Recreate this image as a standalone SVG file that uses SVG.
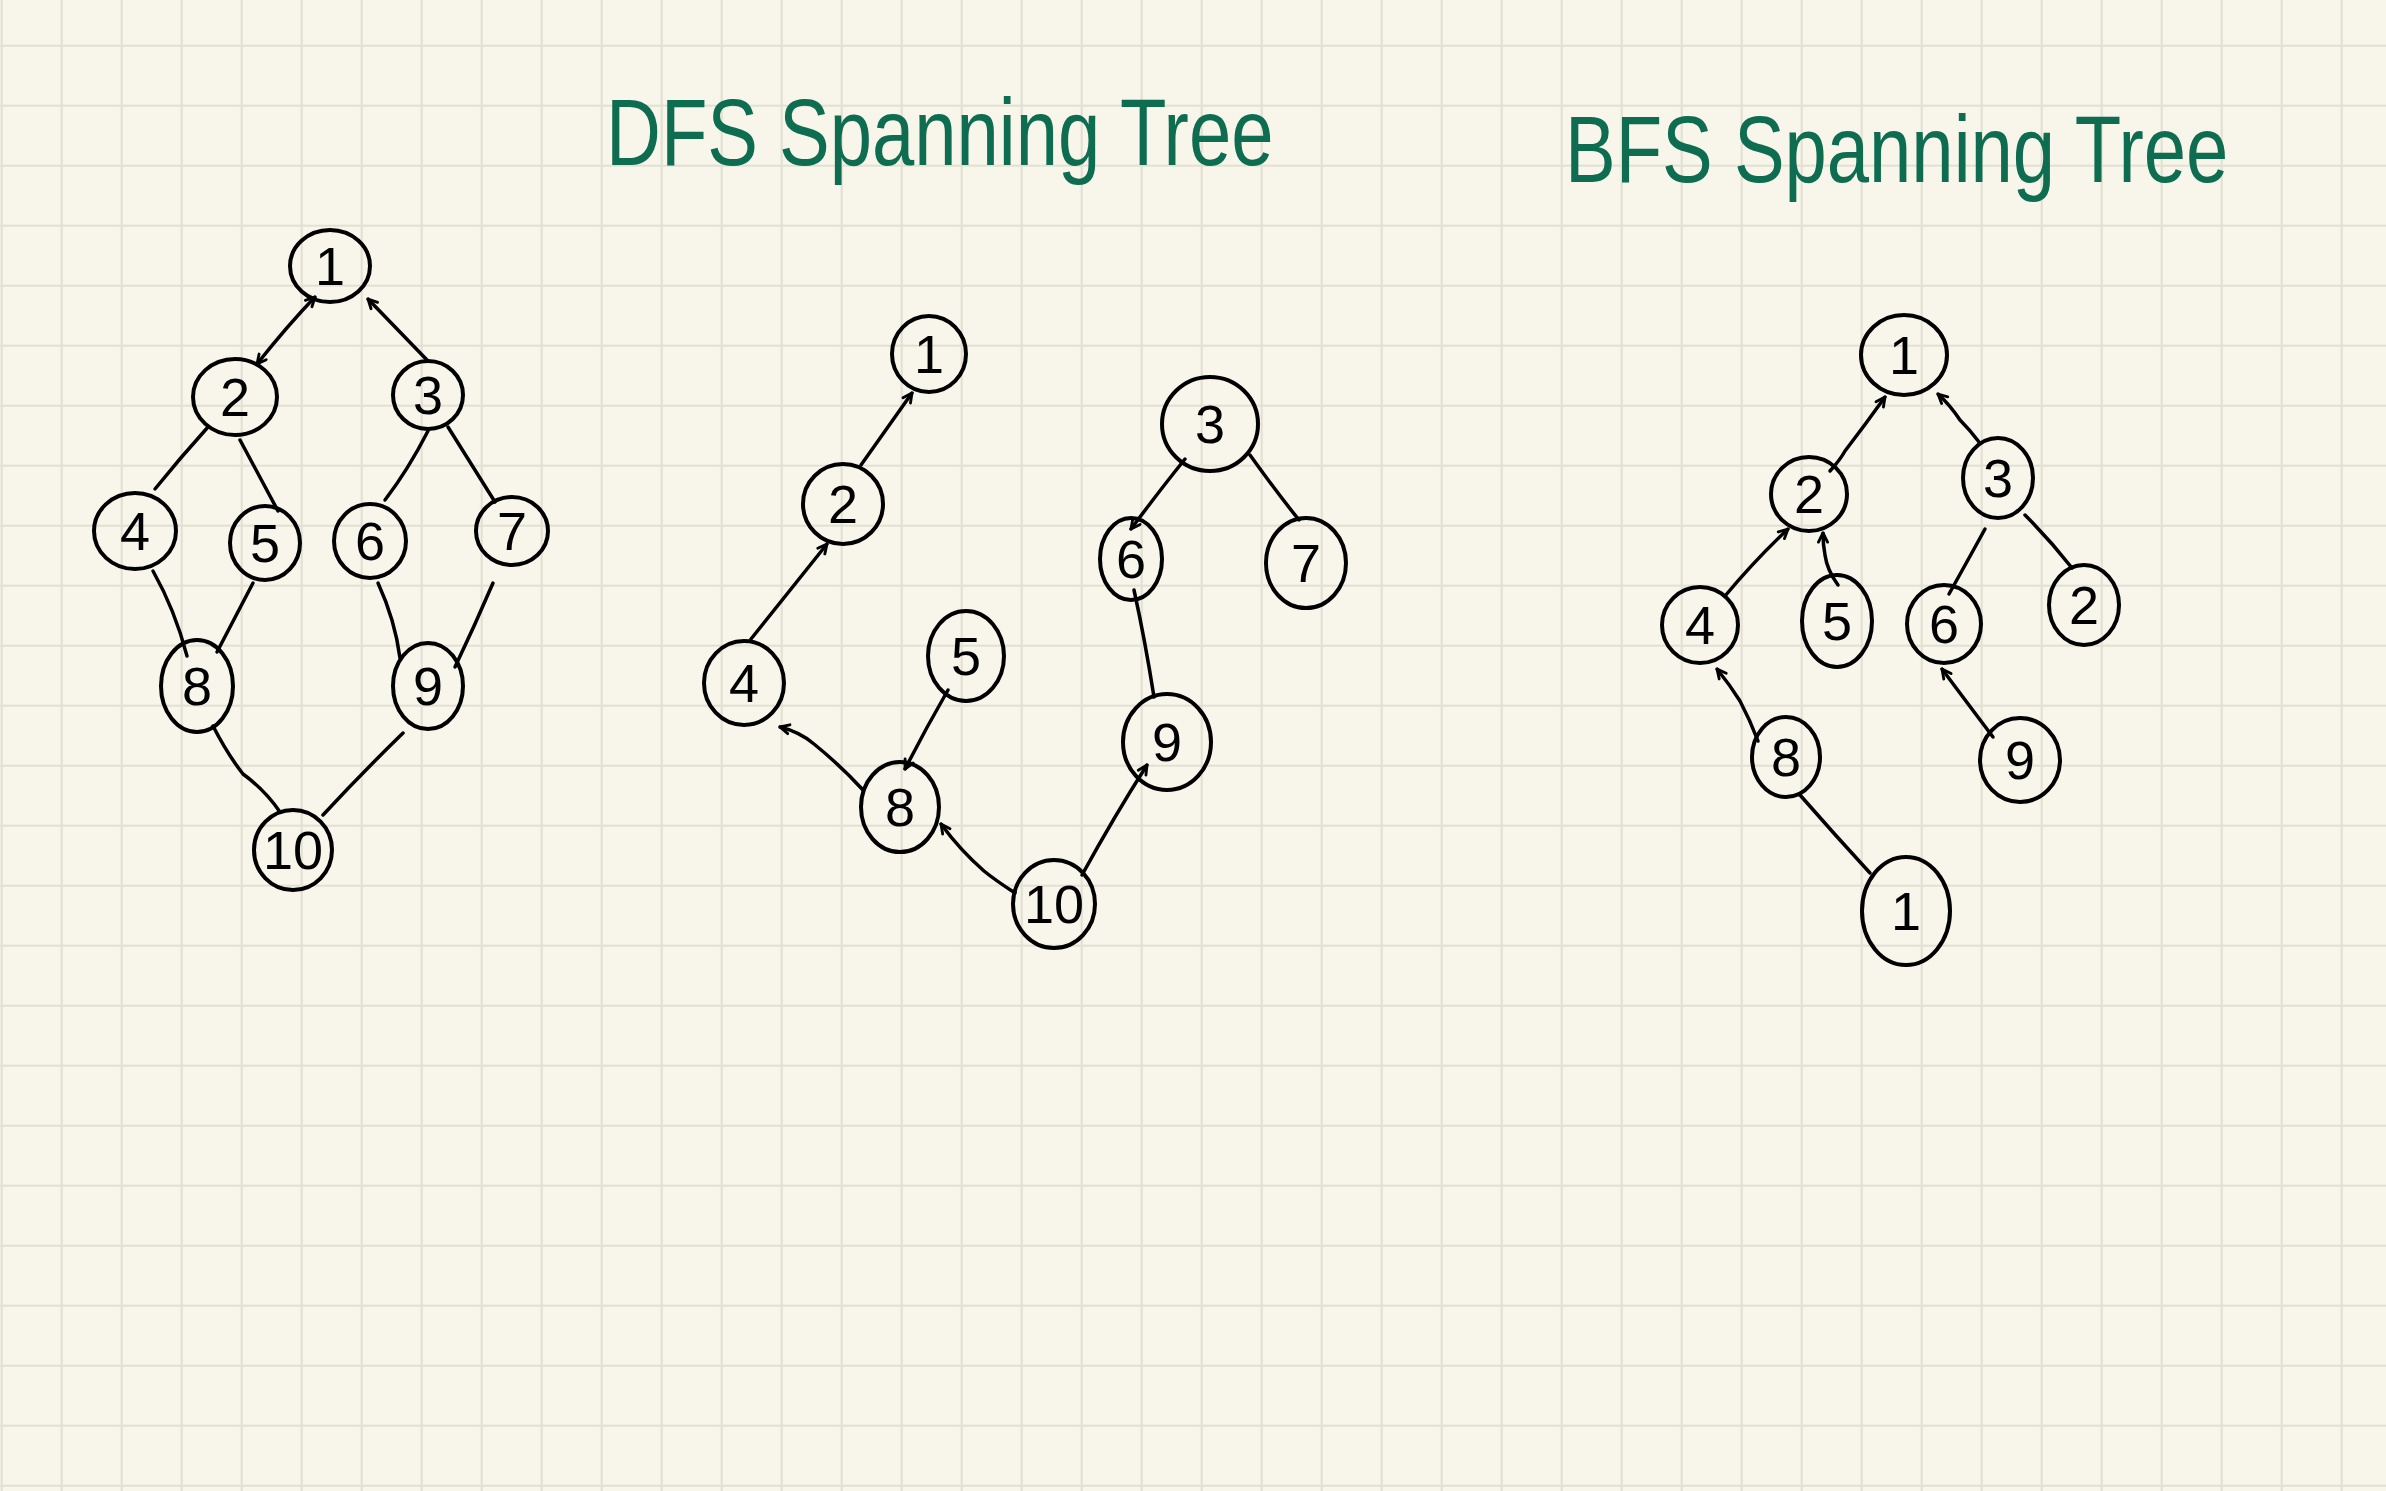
<svg xmlns="http://www.w3.org/2000/svg" width="2386" height="1491" viewBox="0 0 2386 1491">
<style>
.node ellipse{fill:none;stroke:#000;stroke-width:4;}
.node text{font-family:"Liberation Sans","DejaVu Sans",sans-serif;font-size:54px;fill:#000;text-anchor:middle;}
.edge{fill:none;stroke:#000;stroke-width:3.5;stroke-linecap:round;stroke-linejoin:round;}
.title{font-family:"Liberation Sans","DejaVu Sans",sans-serif;font-size:76px;fill:#0e6c50;}
</style>
<defs>
<pattern id="grid" x="-28.3" y="15.7" width="60" height="60" patternUnits="userSpaceOnUse">
<path d="M30 0V60M0 30H60" stroke="#e2dfd3" stroke-width="2.2" fill="none"/>
</pattern>
<marker id="ah" viewBox="0 0 10 10" refX="9" refY="5" markerWidth="13" markerHeight="13" orient="auto-start-reverse" markerUnits="userSpaceOnUse">
<path d="M2 1.5L9 5L2 8.5" fill="none" stroke="#000" stroke-width="2.2" stroke-linecap="round" stroke-linejoin="round"/>
</marker>
</defs>
<rect width="2386" height="1491" fill="#f8f6ea"/>
<rect width="2386" height="1491" fill="url(#grid)"/>

<g id="titles">
<text class="title" transform="translate(606,165) scale(1,1.25)" x="0" y="0">DFS Spanning Tree</text>
<text class="title" transform="translate(1565,182) scale(1,1.25)" x="0" y="0">BFS Spanning Tree</text>
</g>

<g id="connectors">
<!-- original graph -->
<path class="edge" d="M315 297 Q288 325 257 364" marker-start="url(#ah)" marker-end="url(#ah)"/>
<path class="edge" d="M427 360 L368 299" marker-end="url(#ah)"/>
<path class="edge" d="M208 427 Q180 458 155 489"/>
<path class="edge" d="M240 440 L278 511"/>
<path class="edge" d="M428 431 Q408 470 385 500"/>
<path class="edge" d="M448 427 L495 502"/>
<path class="edge" d="M153 571 Q175 610 187 656"/>
<path class="edge" d="M253 583 L217 652"/>
<path class="edge" d="M378 583 Q395 620 400 658"/>
<path class="edge" d="M493 583 Q475 625 455 667"/>
<path class="edge" d="M213 726 Q228 755 243 774 Q265 790 280 812"/>
<path class="edge" d="M403 733 Q360 775 323 815"/>
<!-- DFS tree -->
<path class="edge" d="M912 393 L861 465" marker-start="url(#ah)"/>
<path class="edge" d="M751 639 Q790 590 827 544" marker-end="url(#ah)"/>
<path class="edge" d="M863 790 Q840 765 814 744 Q800 732 780 727" marker-end="url(#ah)"/>
<path class="edge" d="M948 690 Q925 730 905 769" marker-end="url(#ah)"/>
<path class="edge" d="M1015 893 Q995 880 984 871 Q960 850 941 824" marker-end="url(#ah)"/>
<path class="edge" d="M1082 875 Q1115 815 1147 765" marker-end="url(#ah)"/>
<path class="edge" d="M1154 697 Q1145 640 1134 590"/>
<path class="edge" d="M1185 459 Q1160 490 1131 529" marker-end="url(#ah)"/>
<path class="edge" d="M1250 455 Q1275 490 1299 520"/>
<!-- BFS tree -->
<path class="edge" d="M1830 471 Q1840 460 1845 451 Q1865 425 1885 397" marker-end="url(#ah)"/>
<path class="edge" d="M1979 442 Q1970 430 1960 420 Q1950 405 1938 394" marker-end="url(#ah)"/>
<path class="edge" d="M1725 596 Q1755 560 1788 529" marker-end="url(#ah)"/>
<path class="edge" d="M1838 585 Q1827 570 1825 555 Q1823 545 1823 533" marker-end="url(#ah)"/>
<path class="edge" d="M1985 529 Q1968 560 1949 594"/>
<path class="edge" d="M2025 515 Q2050 540 2072 568"/>
<path class="edge" d="M1758 741 Q1750 720 1740 701 Q1730 685 1717 669" marker-end="url(#ah)"/>
<path class="edge" d="M1993 737 Q1965 700 1942 669" marker-end="url(#ah)"/>
<path class="edge" d="M1800 795 Q1835 835 1870 873"/>
</g>

<g id="graph">
<g id="g-n1" class="node"><ellipse cx="330" cy="266" rx="40" ry="36"/><text x="330" y="285">1</text></g>
<g id="g-n2" class="node"><ellipse cx="235" cy="397" rx="42" ry="38"/><text x="235" y="416">2</text></g>
<g id="g-n3" class="node"><ellipse cx="428" cy="395" rx="35" ry="34"/><text x="428" y="414">3</text></g>
<g id="g-n4" class="node"><ellipse cx="135" cy="531" rx="41" ry="38"/><text x="135" y="550">4</text></g>
<g id="g-n5" class="node"><ellipse cx="265" cy="543" rx="35" ry="37"/><text x="265" y="562">5</text></g>
<g id="g-n6" class="node"><ellipse cx="370" cy="541" rx="36" ry="37"/><text x="370" y="560">6</text></g>
<g id="g-n7" class="node"><ellipse cx="512" cy="531" rx="36" ry="34"/><text x="512" y="550">7</text></g>
<g id="g-n8" class="node"><ellipse cx="197" cy="686" rx="36" ry="46"/><text x="197" y="705">8</text></g>
<g id="g-n9" class="node"><ellipse cx="428" cy="686" rx="35" ry="43"/><text x="428" y="705">9</text></g>
<g id="g-n10" class="node"><ellipse cx="293" cy="850" rx="39" ry="40"/><text x="293" y="869">10</text></g>
</g>

<g id="dfs">
<g id="d-n1" class="node"><ellipse cx="929" cy="354" rx="37" ry="38"/><text x="929" y="373">1</text></g>
<g id="d-n2" class="node"><ellipse cx="843" cy="504" rx="40" ry="40"/><text x="843" y="523">2</text></g>
<g id="d-n3" class="node"><ellipse cx="1210" cy="424" rx="48" ry="47"/><text x="1210" y="443">3</text></g>
<g id="d-n4" class="node"><ellipse cx="744" cy="683" rx="40" ry="42"/><text x="744" y="702">4</text></g>
<g id="d-n5" class="node"><ellipse cx="966" cy="656" rx="38" ry="45"/><text x="966" y="675">5</text></g>
<g id="d-n6" class="node"><ellipse cx="1131" cy="559" rx="31" ry="41"/><text x="1131" y="578">6</text></g>
<g id="d-n7" class="node"><ellipse cx="1306" cy="563" rx="40" ry="45"/><text x="1306" y="582">7</text></g>
<g id="d-n8" class="node"><ellipse cx="900" cy="807" rx="39" ry="45"/><text x="900" y="826">8</text></g>
<g id="d-n9" class="node"><ellipse cx="1167" cy="742" rx="44" ry="48"/><text x="1167" y="761">9</text></g>
<g id="d-n10" class="node"><ellipse cx="1054" cy="904" rx="41" ry="44"/><text x="1054" y="923">10</text></g>
</g>

<g id="bfs">
<g id="b-n1" class="node"><ellipse cx="1904" cy="355" rx="43" ry="40"/><text x="1904" y="374">1</text></g>
<g id="b-n2" class="node"><ellipse cx="1809" cy="494" rx="38" ry="37"/><text x="1809" y="513">2</text></g>
<g id="b-n3" class="node"><ellipse cx="1998" cy="478" rx="35" ry="40"/><text x="1998" y="497">3</text></g>
<g id="b-n4" class="node"><ellipse cx="1700" cy="625" rx="38" ry="38"/><text x="1700" y="644">4</text></g>
<g id="b-n5" class="node"><ellipse cx="1837" cy="621" rx="35" ry="46"/><text x="1837" y="640">5</text></g>
<g id="b-n6" class="node"><ellipse cx="1944" cy="624" rx="37" ry="39"/><text x="1944" y="643">6</text></g>
<g id="b-n7" class="node"><ellipse cx="2084" cy="605" rx="35" ry="40"/><text x="2084" y="624">2</text></g>
<g id="b-n8" class="node"><ellipse cx="1786" cy="757" rx="34" ry="40"/><text x="1786" y="776">8</text></g>
<g id="b-n9" class="node"><ellipse cx="2020" cy="760" rx="40" ry="42"/><text x="2020" y="779">9</text></g>
<g id="b-n10" class="node"><ellipse cx="1906" cy="911" rx="44" ry="54"/><text x="1906" y="930">1</text></g>
</g>
</svg>
